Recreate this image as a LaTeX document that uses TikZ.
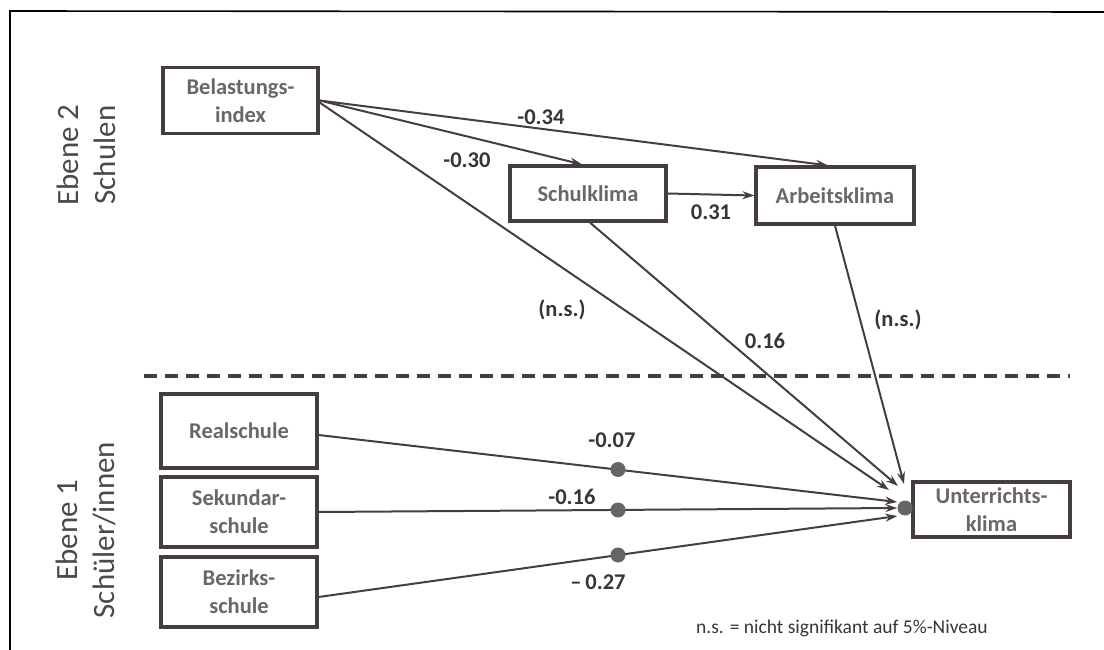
\documentclass[tikz,border=0pt]{standalone}
\usepackage{fontspec}
\setmainfont{Carlito}
\usetikzlibrary{arrows.meta}
\definecolor{ln}{RGB}{70,62,62}
\definecolor{tx}{RGB}{108,102,102}
\definecolor{num}{RGB}{58,52,52}
\definecolor{dotc}{RGB}{105,100,100}
\begin{document}
\begin{tikzpicture}[x=1pt,y=-1pt,
  box/.style={draw=ln, line width=3.2pt, fill=white, inner sep=0pt, align=center,
    text=tx, font=\fontsize{22.5}{28}\selectfont\bfseries},
  lab/.style={text=num, font=\fontsize{22.5}{26}\selectfont\bfseries, inner sep=0pt},
  side/.style={text=num!90, font=\fontsize{31}{37}\selectfont, align=center, rotate=90, inner sep=0pt},
  arr/.style={draw=ln, line width=2pt, -{Stealth[length=12pt,width=8pt]}},
  dotn/.style={circle, fill=dotc, draw=none, minimum size=15pt, inner sep=0pt}]
\useasboundingbox (0,0) rectangle (1104,650);
% frame
\draw[line width=1.6pt, black] (10,650) -- (10,11) -- (1104,12);
% level separator
\draw[ln, line width=4pt, dash pattern=on 13pt off 8pt] (144,376) -- (1070,376);
% side labels
\node[side] (lvl2) at (86,155) {Ebene 2\\Schulen};
\node[side] (lvl1) at (86,530) {Ebene 1\\Schüler/innen};
% boxes
\node[box, minimum width=155pt, minimum height=66pt] (bel) at (240.5,100.5) {Belastungs-\\index};
\node[box, minimum width=156pt, minimum height=55pt] (schul) at (588,193.5) {Schulklima};
\node[box, minimum width=158pt, minimum height=57pt] (arb) at (835,195.5) {Arbeitsklima};
\node[box, minimum width=156pt, minimum height=74pt] (real) at (239,431) {Realschule};
\node[box, minimum width=156pt, minimum height=70pt] (sek) at (239,512) {Sekundar-\\schule};
\node[box, minimum width=156pt, minimum height=70pt] (bez) at (239,592) {Bezirks-\\schule};
\node[box, minimum width=157pt, minimum height=55pt] (unt) at (991.5,509.5) {Unterrichts-\\klima};
% dots
\node[dotn] (ud) at (905,508) {};
\coordinate (tA) at (889,490);
\coordinate (tB) at (898,486);
\coordinate (tC) at (904,484);
% level 2 paths
\draw[arr] (bel.east) -- ([xshift=-7pt]arb.north);
\draw[arr] (bel.east) -- ([xshift=-6pt]schul.north);
\draw[arr] ([yshift=-2pt]bel.east) -- (tA);
\draw[arr] (schul.east) -- (arb.west);
\draw[arr] ([xshift=2pt]schul.south) -- (tB);
\draw[arr] (arb.south) -- (tC);
% level 1 paths
\draw[arr] ([yshift=-4pt]real.east) -- ([yshift=6pt]ud.west);
\draw[arr] (sek.east) -- (ud.west);
\draw[arr] ([yshift=-5pt]bez.east) -- ([yshift=-8pt]ud.west);
\node[dotn] (d1) at (618,469.5) {};
\node[dotn] (d2) at (618,510) {};
\node[dotn] (d3) at (618,555) {};
% coefficients
\node[lab] (c1) at (541,117) {-0.34};
\node[lab] (c2) at (467,160) {-0.30};
\node[lab] (c3) at (711,212) {0.31};
\node[lab] (c4) at (562,310) {(n.s.)};
\node[lab] (c5) at (765,341) {0.16};
\node[lab] (c6) at (898,320) {(n.s.)};
\node[lab] (c7) at (612,440) {-0.07};
\node[lab] (c8) at (572,497) {-0.16};
\node[lab] (c9) at (598,582) {\textendash\,0.27};
% note
\node[text=num, font=\fontsize{19.5}{23}\selectfont, inner sep=0pt] (note) at (842,628) {n.s. = nicht signifikant auf 5\%-Niveau};
\end{tikzpicture}
\end{document}
